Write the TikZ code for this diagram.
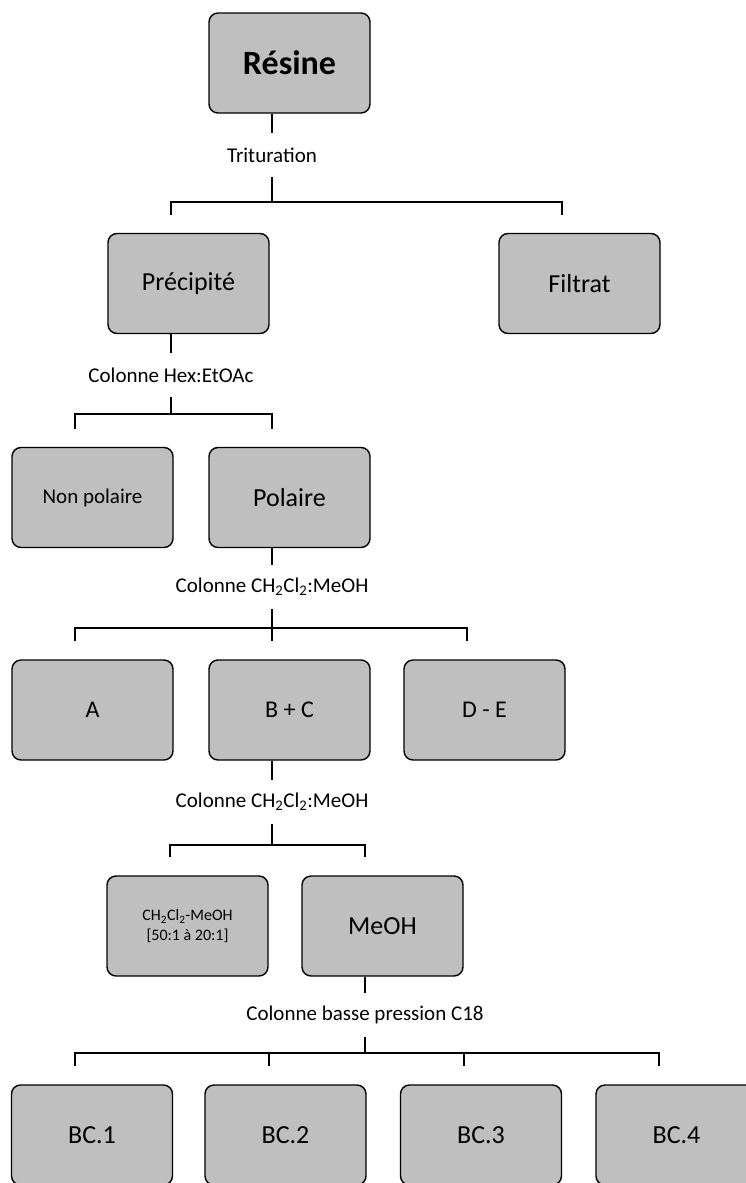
\documentclass[tikz,border=0pt]{standalone}
\usepackage{fontspec}
\setmainfont{Carlito}
\begin{document}
\begin{tikzpicture}[x=1pt,y=-1pt,
	boite/.style={draw,line width=1.4pt,rounded corners=9pt,fill=black!25,minimum width=161pt,minimum height=100pt,inner sep=0pt,align=center,font=\fontsize{26}{30}\selectfont},
	petit/.style={font=\fontsize{21}{25}\selectfont},
	lettre/.style={font=\fontsize{24}{28}\selectfont},
	etape/.style={minimum height=44pt,inner sep=0pt,font=\fontsize{21}{25}\selectfont},
	trait/.style={line width=1.8pt},
	branche/.style={line width=1.3pt,shorten <=18pt,shorten >=18pt},
	descente/.style={line width=1.3pt,shorten >=18pt}]
	\useasboundingbox (0,0) rectangle (746,1183);
	\clip (0,0) rectangle (746,1183);
	% boites
	\node[boite,font=\fontsize{34}{38}\selectfont\bfseries] (resine) at (289.5,63) {Résine};
	\node[boite] (precip) at (188.5,283.5) {Précipité};
	\node[boite] (filtrat) at (579.5,283.5) {Filtrat};
	\node[boite,petit] (nonpol) at (92.5,497.5) {Non polaire};
	\node[boite] (polaire) at (289.5,497.5) {Polaire};
	\node[boite,lettre] (fA) at (92.5,710) {A};
	\node[boite,lettre] (fBC) at (289.5,710) {B + C};
	\node[boite,lettre] (fDE) at (484.5,710) {D - E};
	\node[boite,font=\fontsize{16}{20}\selectfont] (fCH) at (187.5,926) {CH\textsubscript{2}Cl\textsubscript{2}-MeOH\\{}[50:1 à 20:1]};
	\node[boite] (fMe) at (382.5,926) {MeOH};
	\node[boite] (bc1) at (92,1135) {BC.1};
	\node[boite] (bc2) at (285.5,1135) {BC.2};
	\node[boite] (bc3) at (481,1135) {BC.3};
	\node[boite] (bc4) at (676.5,1135) {BC.4};
	% etapes
	\node[etape] (trit) at (272,155) {Trituration};
	\node[etape] (hexa) at (171,375) {Colonne Hex:EtOAc};
	\node[etape] (col1) at (272,587) {Colonne CH\textsubscript{2}Cl\textsubscript{2}:MeOH};
	\node[etape] (col2) at (272,802) {Colonne CH\textsubscript{2}Cl\textsubscript{2}:MeOH};
	\node[etape] (c18) at (365,1015) {Colonne basse pression C18};
	% accolades
	\coordinate (g1) at (171,202); \coordinate (d1) at (562,202);
	\coordinate (g2) at (75,414); \coordinate (d2) at (272,414);
	\coordinate (g3) at (75,628); \coordinate (m3) at (272,628); \coordinate (d3) at (467,628);
	\coordinate (g4) at (170,845); \coordinate (d4) at (365,845);
	\coordinate (g5) at (75,1053); \coordinate (m5a) at (269,1053);
	\coordinate (m5b) at (464,1053); \coordinate (d5) at (659,1053);
	% traits
	\draw[trait] (resine.south -| trit) -- (trit.north);
	\draw[trait] (trit.south) -- (trit.south |- g1);
	\draw[branche] (g1 |- precip.north) -- (g1) -- (d1) -- (d1 |- filtrat.north);
	\draw[trait] (precip.south -| hexa) -- (hexa.north);
	\draw[trait] (hexa.south) -- (hexa.south |- g2);
	\draw[branche] (g2 |- nonpol.north) -- (g2) -- (d2) -- (d2 |- polaire.north);
	\draw[trait] (polaire.south -| col1) -- (col1.north);
	\draw[trait] (col1.south) -- (col1.south |- g3);
	\draw[branche] (g3 |- fA.north) -- (g3) -- (d3) -- (d3 |- fDE.north);
	\draw[descente] (m3) -- (m3 |- fBC.north);
	\draw[trait] (fBC.south -| col2) -- (col2.north);
	\draw[trait] (col2.south) -- (col2.south |- g4);
	\draw[branche] (g4 |- fCH.north) -- (g4) -- (d4) -- (d4 |- fMe.north);
	\draw[trait] (fMe.south -| c18) -- (c18.north);
	\draw[trait] (c18.south) -- (c18.south |- g5);
	\draw[branche] (g5 |- bc1.north) -- (g5) -- (d5) -- (d5 |- bc4.north);
	\draw[descente] (m5a) -- (m5a |- bc2.north);
	\draw[descente] (m5b) -- (m5b |- bc3.north);
\end{tikzpicture}
\end{document}
